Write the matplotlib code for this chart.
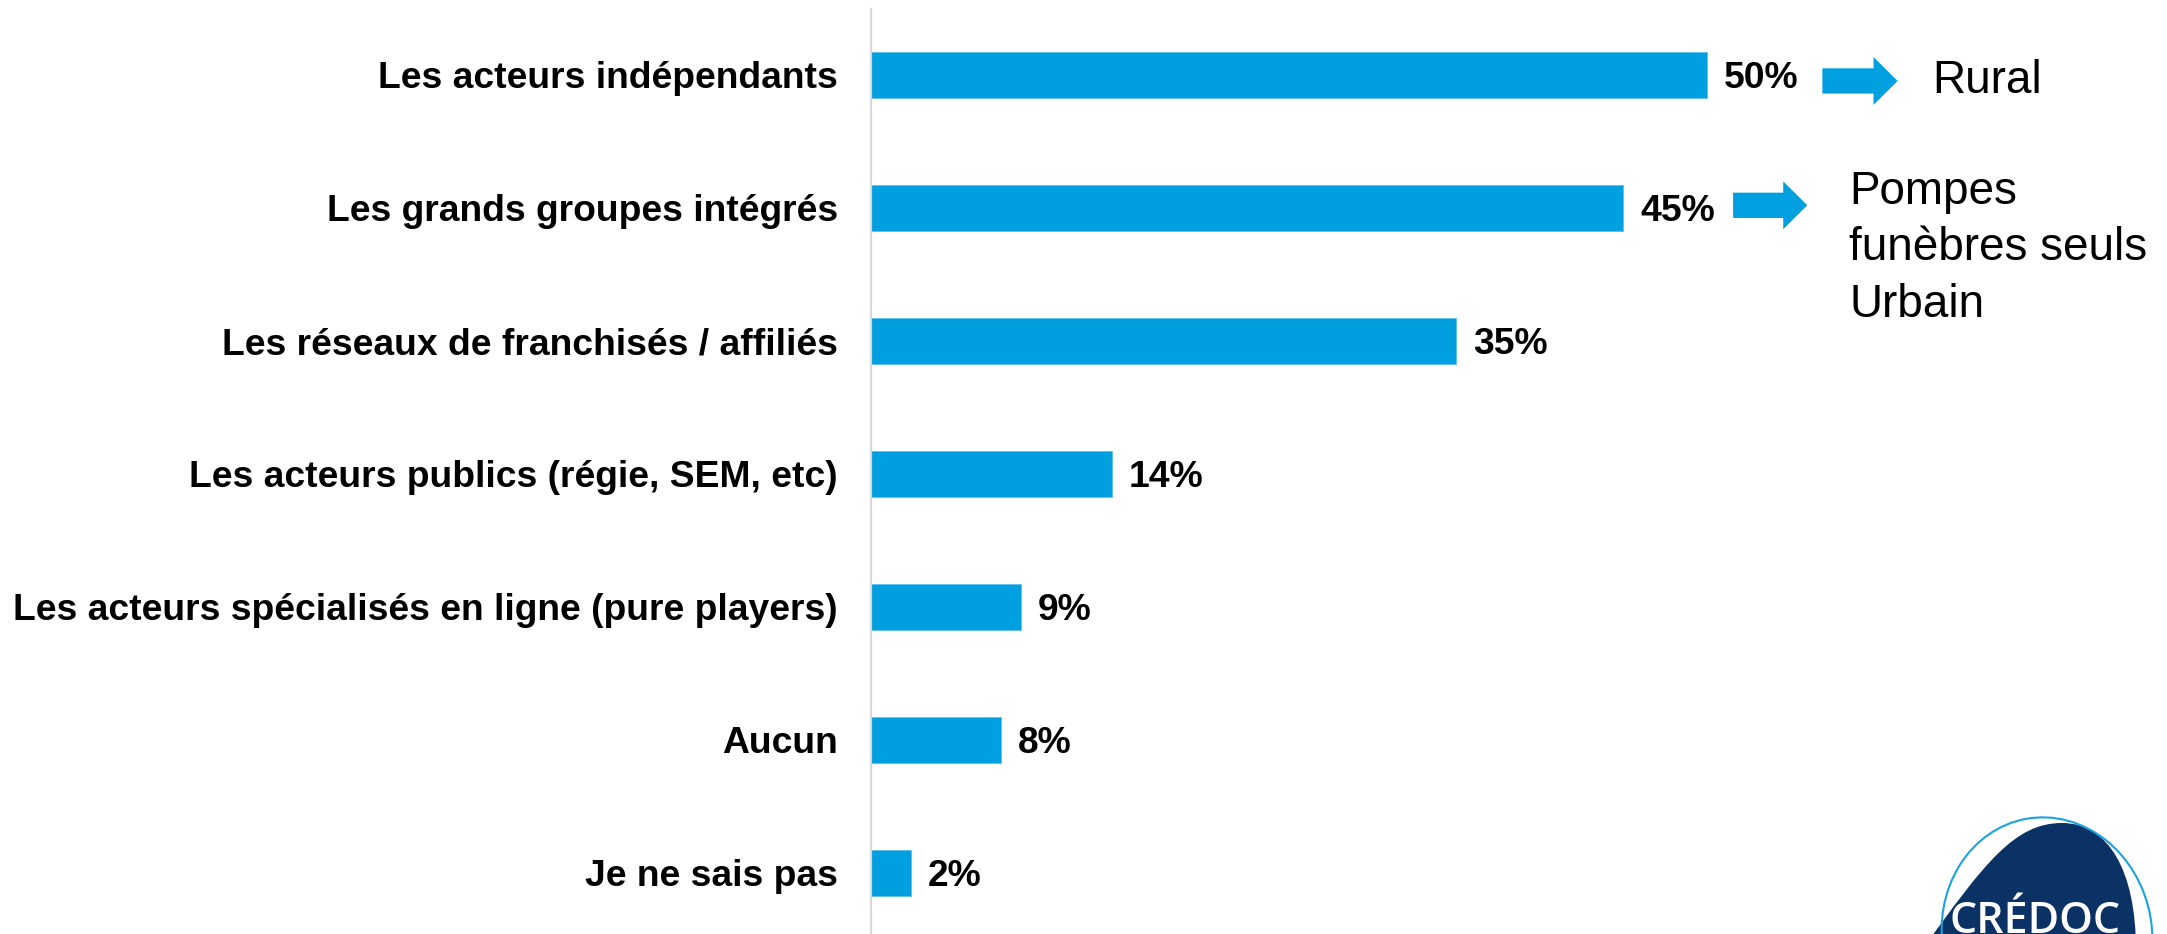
import matplotlib.pyplot as plt
from matplotlib.patches import FancyArrow, Ellipse, PathPatch
from matplotlib.path import Path

# --- DATA ---
categories = [
    "Les acteurs indépendants",
    "Les grands groupes intégrés",
    "Les réseaux de franchisés / affiliés",
    "Les acteurs publics (régie, SEM, etc)",
    "Les acteurs spécialisés en ligne (pure players)",
    "Aucun",
    "Je ne sais pas",
]
values = [50, 45, 35, 14.4, 9, 7.8, 2.4]
notes = ["Rural", "Pompes\nfunèbres seuls\nUrbain"]

BLUE = '#009fe0'
NAVY = '#0a3264'
W, H = 2167, 934

plt.rcParams['font.family'] = ['Liberation Sans', 'DejaVu Sans']

fig = plt.figure(figsize=(W / 100, H / 100), dpi=100)

# --- MAIN BAR CHART ---
ax = fig.add_axes([871 / W, 0, 1 - 871 / W, (H - 9) / H])
ypos = list(range(len(categories)))
ax.barh(ypos, values, height=0.346, color=BLUE, edgecolor='#5cc0ee', linewidth=0.6)
ax.set_xlim(0, (W - 871) / 16.72)
ax.set_ylim(6.459, -0.496)

ax.set_yticks(ypos)
ax.set_yticklabels(categories, fontsize=26.8, fontweight='bold')
ax.tick_params(axis='y', length=0, pad=24)
ax.set_xticks([])
for s in ['top', 'right', 'bottom']:
    ax.spines[s].set_visible(False)
ax.spines['left'].set_color('#d9d9d9')
ax.spines['left'].set_linewidth(1.6)

for y, v in zip(ypos, values):
    ax.annotate(f"{v:.0f}%", (v, y), xytext=(12, -9.6), textcoords='offset points',
                ha='left', va='baseline', fontsize=26.8, fontweight='bold')

# --- ARROWS + NOTES ---
ax.add_patch(FancyArrow(56.9, 0.045, 4.5, 0, width=0.19, head_width=0.36,
                        head_length=1.44, length_includes_head=True,
                        color=BLUE, linewidth=0, clip_on=False))
ax.add_patch(FancyArrow(51.56, 0.98, 4.44, 0, width=0.19, head_width=0.36,
                        head_length=1.44, length_includes_head=True,
                        color=BLUE, linewidth=0, clip_on=False))
ax.text(63.5, 0.135, notes[0], fontsize=33, ha='left', va='baseline')
# baseline of the last line ("Urbain")
ax.text(58.5, 1.82, notes[1], fontsize=33, ha='left', va='baseline', linespacing=1.37)

# --- LOGO ---
lg = fig.add_axes([1880 / W, 0, (W - 1880) / W, 154 / H])
lg.set_xlim(1880, W)
lg.set_ylim(H, 780)
lg.axis('off')
blob = Path([(1922, 950), (1985, 862), (2015, 823), (2062, 823),
             (2108, 823), (2136, 870), (2136, 950), (1922, 950)],
            [Path.MOVETO, Path.CURVE4, Path.CURVE4, Path.CURVE4,
             Path.CURVE4, Path.CURVE4, Path.CURVE4, Path.CLOSEPOLY])
lg.add_patch(PathPatch(blob, facecolor=NAVY, edgecolor='none'))
lg.add_patch(Ellipse((2047, 935), 210, 236, angle=-10, fill=False,
                     edgecolor='#1aa3e0', linewidth=1.5))
lg.text(2035, 933, "CRÉDOC", color='white', fontsize=31, fontweight='semibold',
        family=['Open Sans', 'DejaVu Sans'], ha='center', va='baseline')

fig.savefig('out.png', dpi=100)
